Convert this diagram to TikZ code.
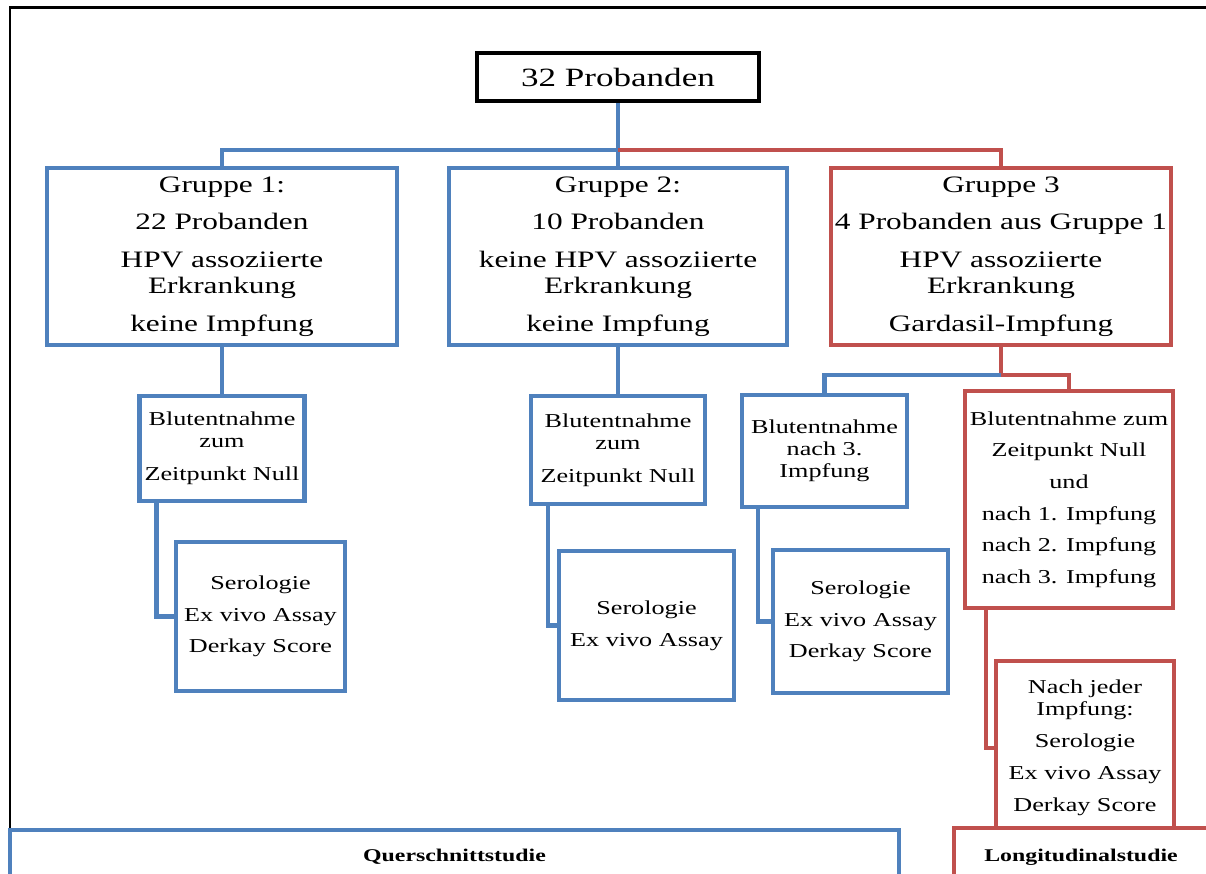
\documentclass[tikz,border=0pt]{standalone}
\usepackage{fontspec}
\setmainfont{Liberation Serif}[FakeStretch=1.33]
\definecolor{obl}{HTML}{4F81BD}
\definecolor{ord}{HTML}{C0504D}
\begin{document}
\begin{tikzpicture}[x=0.02cm,y=-0.02cm,
  box/.style={draw,line width=2.3pt,align=center,inner sep=1pt,fill=white,text=black},
  bbox/.style={box,draw=obl},
  rbox/.style={box,draw=ord},
  big/.style={font=\fontsize{13.4}{14.7}\selectfont},
  small/.style={font=\fontsize{11.2}{12.5}\selectfont},
  wide/.style={font=\fontsize{11.2}{18}\selectfont},
  bl/.style={draw=obl,line width=2.3pt},
  rl/.style={draw=ord,line width=2.3pt}]
\useasboundingbox (0,0) rectangle (1206,874);
\clip (0,0) rectangle (1206,874);
\fill[white] (0,0) rectangle (1206,874);
\draw[black,line width=1.7pt] (10,830) -- (10,8) -- (1215,8);

\node[box,draw=black,line width=2.8pt,minimum width=5.64cm,minimum height=0.96cm,font=\fontsize{15}{17}\selectfont] (top) at (618,77) {32 Probanden};

\node[bbox,big,minimum width=7cm,minimum height=3.54cm] (g1) at (222,256.5)
  {Gruppe 1:\\[6.8pt]22 Probanden\\[6.8pt]HPV assoziierte\\Erkrankung\\[6.8pt]keine Impfung};
\node[bbox,big,minimum width=6.76cm,minimum height=3.54cm] (g2) at (618,256.5)
  {Gruppe 2:\\[6.8pt]10 Probanden\\[6.8pt]keine HPV assoziierte\\Erkrankung\\[6.8pt]keine Impfung};
\node[rbox,big,minimum width=6.8cm,minimum height=3.54cm] (g3) at (1001,256.5)
  {Gruppe 3\\[6.8pt]4 Probanden aus Gruppe 1\\[6.8pt]HPV assoziierte\\Erkrankung\\[6.8pt]Gardasil-Impfung};

\node[bbox,small,minimum width=3.3cm,minimum height=2.1cm] (b1) at (222,448.5)
  {Blutentnahme\\zum\\[6.2pt]Zeitpunkt Null};
\node[bbox,small,minimum width=3.48cm,minimum height=2.16cm] (b2) at (618,450)
  {Blutentnahme\\zum\\[6.2pt]Zeitpunkt Null};
\node[bbox,small,minimum width=3.3cm,minimum height=2.24cm] (b3) at (824.5,451)
  {Blutentnahme\\nach 3.\\Impfung};

\node[bbox,wide,minimum width=3.38cm,minimum height=2.98cm] (s1) at (260.5,616.5)
  {Serologie\\Ex vivo Assay\\Derkay Score};
\node[bbox,wide,minimum width=3.5cm,minimum height=2.98cm] (s2) at (646.5,625.5)
  {Serologie\\Ex vivo Assay};
\node[bbox,wide,minimum width=3.5cm,minimum height=2.86cm] (s3) at (860.5,621.5)
  {Serologie\\Ex vivo Assay\\Derkay Score};

\node[rbox,wide,minimum width=4.16cm,minimum height=4.34cm] (r1) at (1069,499.5)
  {Blutentnahme zum\\Zeitpunkt Null\\und\\nach 1. Impfung\\nach 2. Impfung\\nach 3. Impfung};
\node[rbox,small,minimum width=3.56cm,minimum height=3.48cm] (r2) at (1085,748)
  {Nach jeder\\Impfung:\\[5.7pt]Serologie\\[5.7pt]Ex vivo Assay\\[5.7pt]Derkay Score};

\node[bbox,minimum width=17.78cm,minimum height=1.08cm,font=\bfseries\fontsize{10.2}{12}\selectfont] (q) at (454.5,857) {Querschnittstudie};
\node[rbox,minimum width=5.08cm,minimum height=1.16cm,font=\bfseries\fontsize{10.2}{12}\selectfont] (l) at (1081,857) {Longitudinalstudie};

\coordinate (j) at (618,150);
\coordinate (k) at (1001,375);
\draw[bl] (top.south) -- (j) -| (g1.north);
\draw[bl] (j) -- (g2.north);
\draw[rl] (j) -| (g3.north);
\draw[bl] (g1.south) -- (b1.north);
\draw[bl] (g2.south) -- (b2.north);
\draw[rl] (g3.south) -- (k) -| (r1.north);
\draw[bl] (k) -| (b3.north);
\draw[bl] ([xshift=0.38cm]b1.south west) |- (s1.west);
\draw[bl] ([xshift=0.38cm]b2.south west) |- (s2.west);
\draw[bl] ([xshift=0.36cm]b3.south west) |- (s3.west);
\draw[rl] ([xshift=0.46cm]r1.south west) |- (r2.west);
\end{tikzpicture}
\end{document}
